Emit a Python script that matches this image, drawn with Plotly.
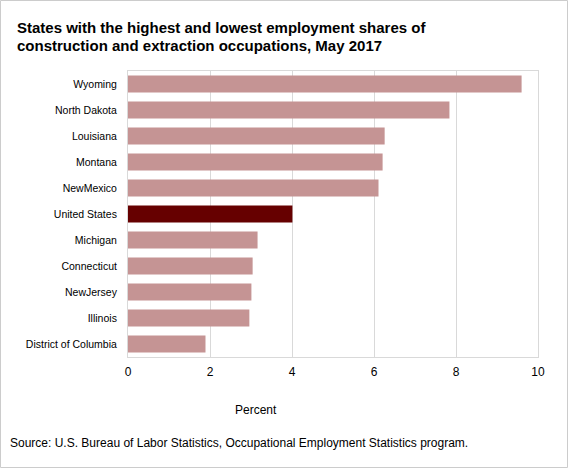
import plotly.graph_objects as go

states = ["Wyoming", "North Dakota", "Louisiana", "Montana", "NewMexico", "United States",
          "Michigan", "Connecticut", "NewJersey", "Illinois", "District of Columbia"]
values = [9.6, 7.84, 6.26, 6.21, 6.11, 4.01, 3.16, 3.04, 3.01, 2.96, 1.89]
colors = ["#C59494" if s != "United States" else "#660000" for s in states]

W, H = 568, 468
L, R, T, B = 128, 30, 71, 111
pw, ph = W - L - R, H - T - B

def px(x):
    return (x - L) / pw

def py(y):
    return (H - B - y) / ph

fig = go.Figure(go.Bar(
    x=values, y=states, orientation="h",
    marker=dict(color=colors, line=dict(width=0)),
))

fig.update_layout(
    width=W, height=H,
    margin=dict(l=L, r=R, t=T, b=B),
    paper_bgcolor="white", plot_bgcolor="white",
    bargap=0.35,
    showlegend=False,
    font=dict(family="Liberation Sans, Arial", size=11, color="black"),
    xaxis=dict(range=[0, 10], dtick=2, showgrid=True, gridcolor="#D9D9D9", gridwidth=1,
               zeroline=False, showline=True, linecolor="#D9D9D9", mirror=True,
               ticks="", tickfont=dict(size=12, color="black"), ticklabelstandoff=4,
               fixedrange=True),
    yaxis=dict(autorange="reversed", showgrid=False, zeroline=False, showline=True,
               linecolor="#D9D9D9", mirror=True, ticks="", ticklabelstandoff=8,
               tickfont=dict(size=10.5, color="black"), fixedrange=True),
    annotations=[
        dict(text="<b>States with the highest and lowest employment shares of</b>",
             x=px(15), y=py(28), xref="paper", yref="paper", xanchor="left", yanchor="middle",
             showarrow=False, font=dict(size=15, family="Liberation Sans, Arial", color="black")),
        dict(text="<b>construction and extraction occupations, May 2017</b>",
             x=px(15), y=py(45.5), xref="paper", yref="paper", xanchor="left", yanchor="middle",
             showarrow=False, font=dict(size=15, family="Liberation Sans, Arial", color="black")),
        dict(text="Percent", x=px(256), y=py(410), xref="paper", yref="paper",
             xanchor="center", yanchor="middle", showarrow=False, font=dict(size=12)),
        dict(text="Source: U.S. Bureau of Labor Statistics, Occupational Employment Statistics program.",
             x=px(8), y=py(443), xref="paper", yref="paper", xanchor="left", yanchor="middle",
             showarrow=False, font=dict(size=12)),
    ],
    shapes=[
        dict(type="rect", xref="paper", yref="paper",
             x0=px(0.5), x1=px(W - 0.5), y0=py(H - 0.5), y1=py(0.5),
             line=dict(color="#CCCCCC", width=1), layer="below"),
    ],
)

fig.write_html("out.html")
